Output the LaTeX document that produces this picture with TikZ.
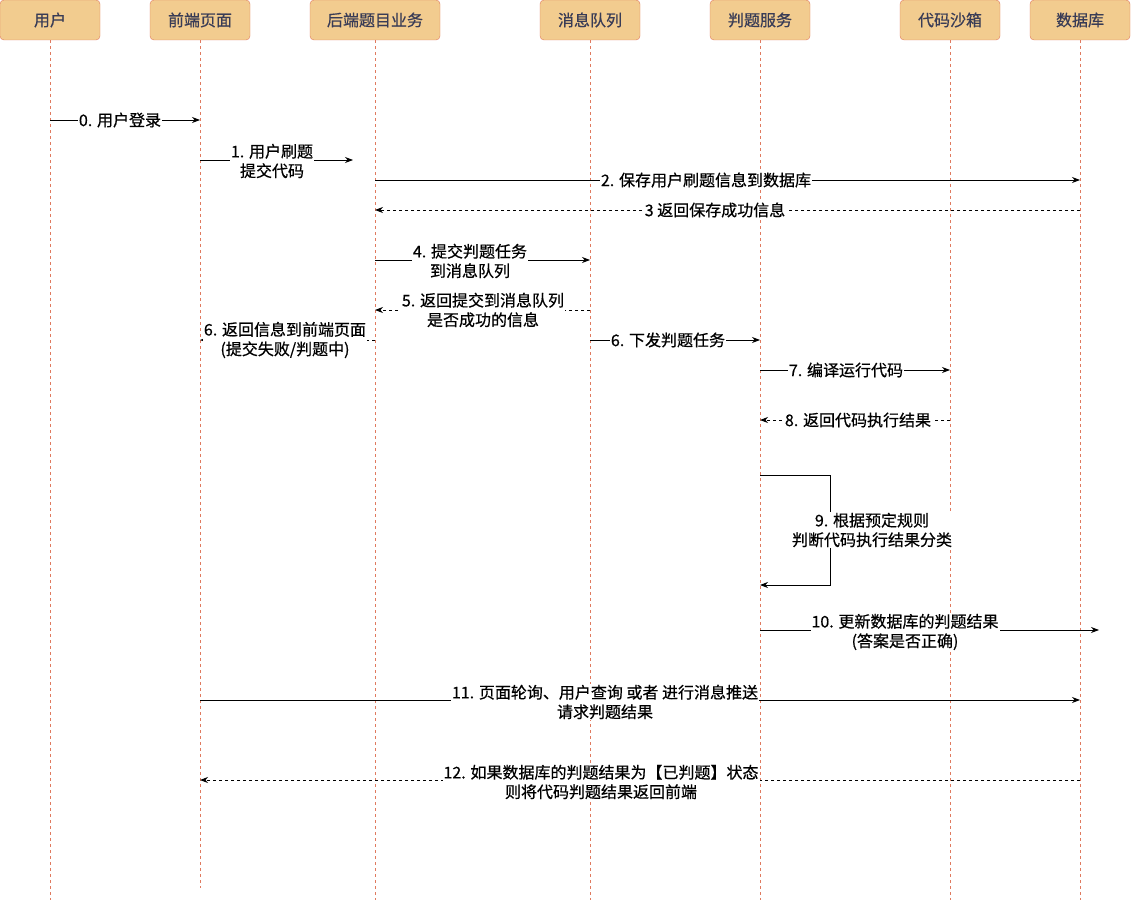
\documentclass[tikz,border=0pt]{standalone}
\usepackage{fontspec}
\setmainfont{Noto Sans CJK SC}
\newfontfamily\lblfont{Noto Sans CJK SC}[FakeBold=0.6]
\usetikzlibrary{arrows.meta}
\definecolor{headfill}{HTML}{F2CC8F}
\definecolor{headline}{HTML}{E07A5F}
\definecolor{headtext}{HTML}{393C56}
\tikzset{
  head/.style={draw=headline,fill=headfill,rounded corners=4pt,minimum height=40pt,
    inner sep=0pt,text=headtext,font=\lblfont\fontsize{16}{19}\selectfont},
  life/.style={draw=headline,dash pattern=on 3pt off 3pt,line width=0.7pt},
  msg/.style={-{Stealth[length=8pt,width=6pt]},line width=0.8pt},
  ret/.style={msg,dash pattern=on 3pt off 3pt},
  lbl/.style={fill=white,inner sep=1pt,align=center,font=\lblfont\fontsize{16}{19.5}\selectfont}
}
\begin{document}
\begin{tikzpicture}[x=1pt,y=-1pt]
\useasboundingbox (0,0) rectangle (1131,901);
\foreach \nm/\x/\w/\txt/\yend in {yh/50/100/用户/900, qd/200/100/前端页面/888,
    hd/375/130/后端题目业务/900, mq/590/100/消息队列/900, pt/760/100/判题服务/900,
    sb/950/100/代码沙箱/900, db/1080/100/数据库/900}{
  \node[head,minimum width=\w pt] (\nm) at (\x,20) {\txt};
  \coordinate (\nm-end) at (\x,\yend);
  \draw[life] (\nm.south) -- (\nm-end);
}
\coordinate (r0) at (0,120);
\coordinate (r1) at (0,160);
\coordinate (r2) at (0,180);
\coordinate (r3) at (0,210);
\coordinate (r4) at (0,260);
\coordinate (r5) at (0,310);
\coordinate (r6) at (0,340);
\coordinate (r7) at (0,370);
\coordinate (r8) at (0,420);
\coordinate (r9a) at (0,475);
\coordinate (r9b) at (0,585);
\coordinate (r10) at (0,630);
\coordinate (r11) at (0,700);
\coordinate (r12) at (0,780);
\coordinate (e1) at (353,160);
\coordinate (c9) at (830,530);
\coordinate (e10) at (1099,630);

\draw[msg] (yh |- r0) -- (qd |- r0);
\draw[msg] (qd |- r1) -- (e1);
\draw[msg] (hd |- r2) -- (db |- r2);
\draw[ret] (db |- r3) -- (hd |- r3);
\draw[msg] (hd |- r4) -- (mq |- r4);
\draw[ret] (mq |- r5) -- (hd |- r5);
\draw[ret] (hd |- r6) -- (qd |- r6);
\draw[msg] (mq |- r6) -- (pt |- r6);
\draw[msg] (pt |- r7) -- (sb |- r7);
\draw[ret] (sb |- r8) -- (pt |- r8);
\draw[msg] (pt |- r9a) -| (c9) |- (pt |- r9b);
\draw[msg] (pt |- r10) -- (e10);
\draw[msg] (qd |- r11) -- (db |- r11);
\draw[ret] (db |- r12) -- (qd |- r12);

\node[lbl] (t0) at (120,120) {0. 用户登录};
\node[lbl] (t1) at (272,161) {1. 用户刷题\\提交代码};
\node[lbl] (t2) at (706,180) {2. 保存用户刷题信息到数据库};
\node[lbl] (t3) at (715,210) {3 返回保存成功信息};
\node[lbl] (t4) at (470,261) {4. 提交判题任务\\到消息队列};
\node[lbl] (t5) at (483,310) {5. 返回提交到消息队列\\是否成功的信息};
\node[lbl] (t6a) at (285,340) {6. 返回信息到前端页面\\(提交失败/判题中)};
\node[lbl] (t6b) at (668,340) {6. 下发判题任务};
\node[lbl] (t7) at (846,370) {7. 编译运行代码};
\node[lbl] (t8) at (858,420) {8. 返回代码执行结果};
\node[lbl] (t9) at (872,530) {9. 根据预定规则\\判断代码执行结果分类};
\node[lbl] (t10) at (905,632) {10. 更新数据库的判题结果\\(答案是否正确)};
\node[lbl] (t11) at (605,702) {11. 页面轮询、用户查询 或者 进行消息推送\\请求判题结果};
\node[lbl] (t12) at (601,782) {12. 如果数据库的判题结果为【已判题】状态\\则将代码判题结果返回前端};
\end{tikzpicture}
\end{document}
